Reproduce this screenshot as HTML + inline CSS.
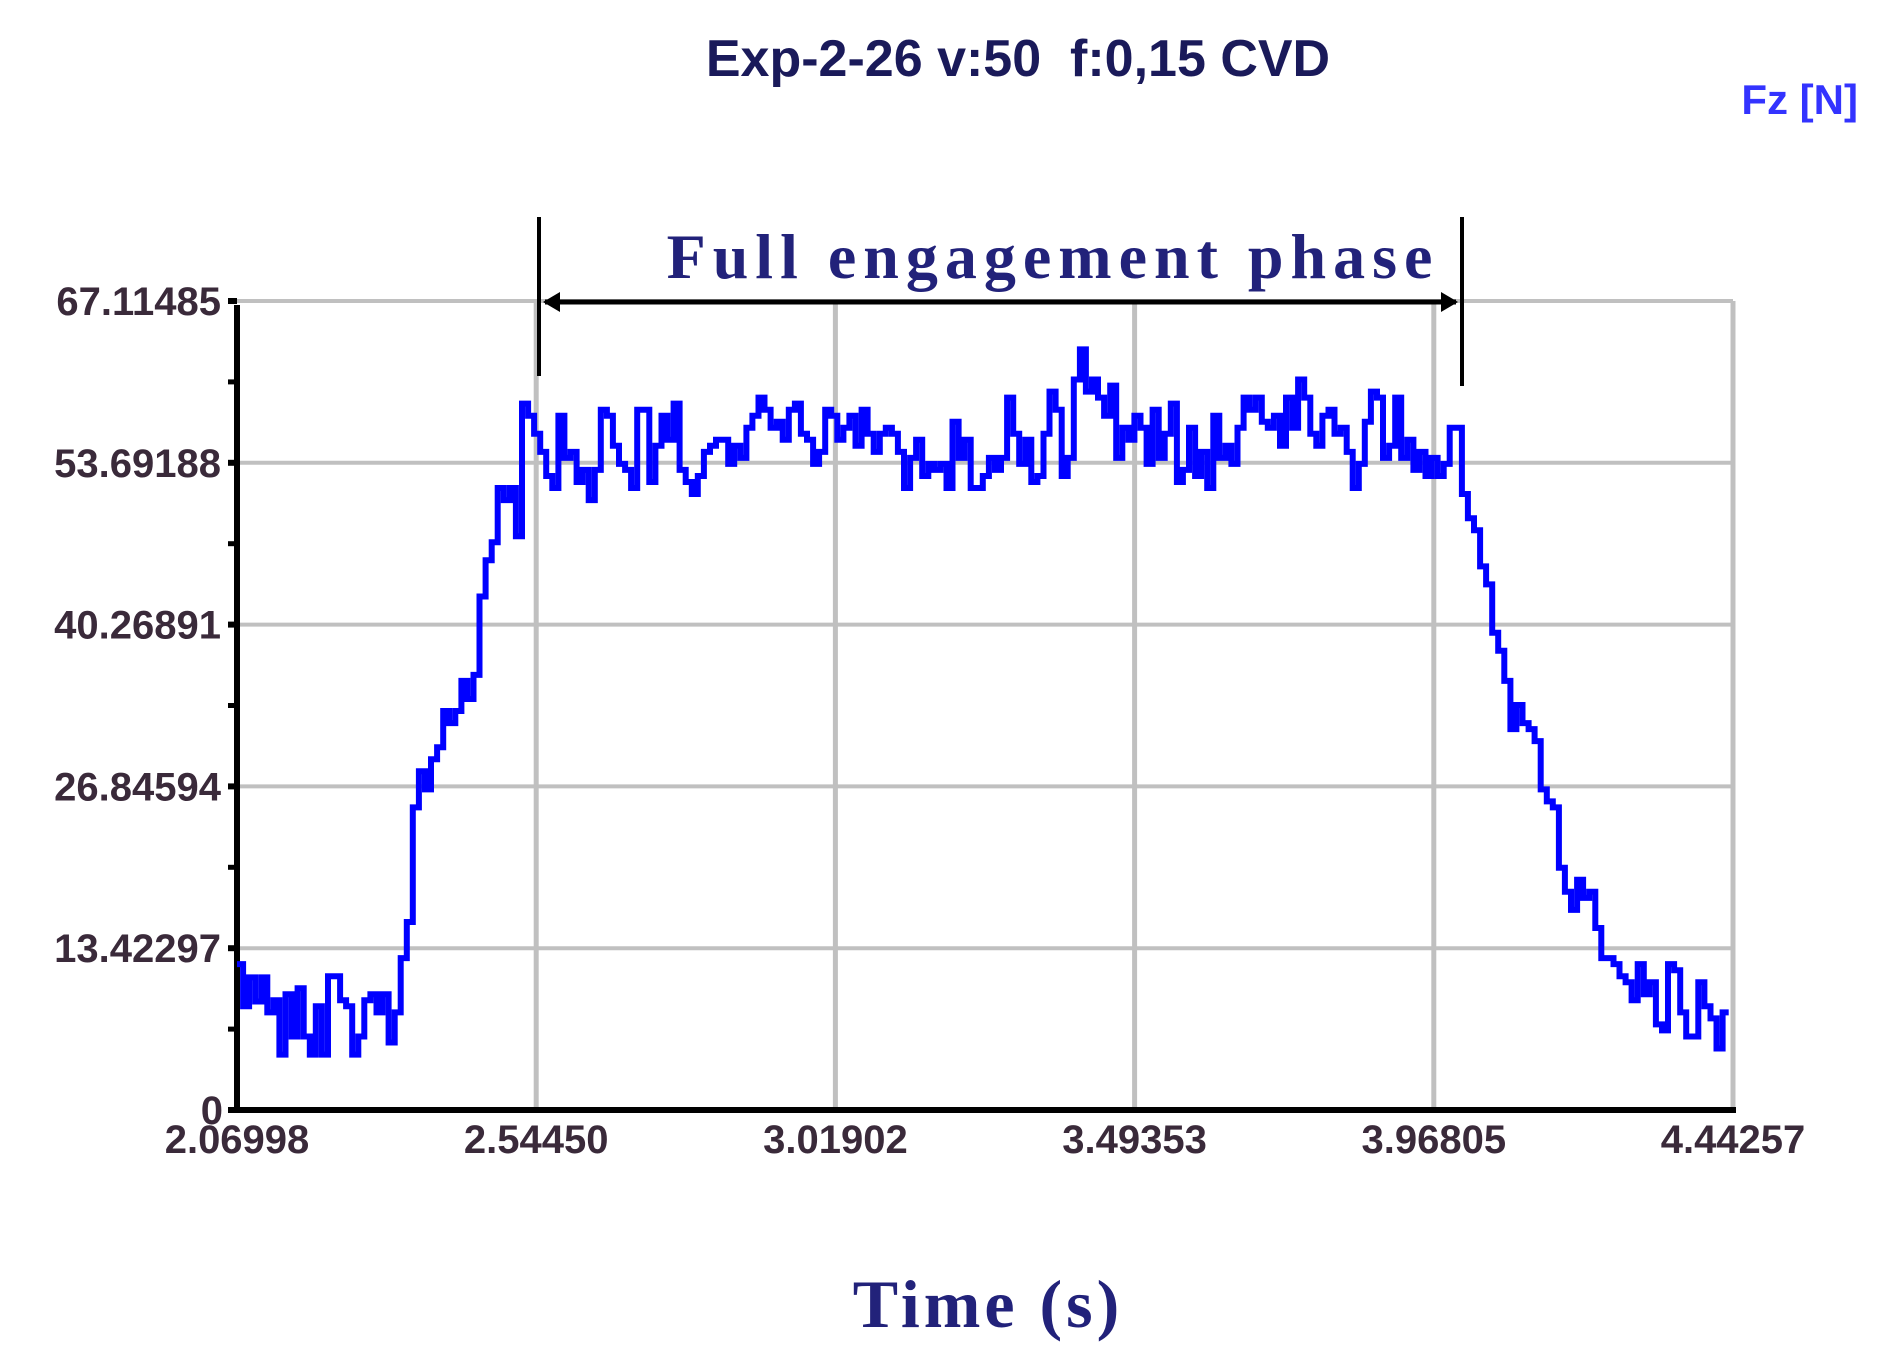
<!DOCTYPE html>
<html><head><meta charset="utf-8"><style>
html,body{margin:0;padding:0;background:#fff;}
svg{display:block;}
.tk{font-family:"Liberation Sans",sans-serif;font-weight:bold;font-size:40px;fill:#3a2a3a;}
</style></head><body>
<svg id="chart" width="1880" height="1372" viewBox="0 0 1880 1372" xmlns="http://www.w3.org/2000/svg">
<text x="1018" y="76" text-anchor="middle" font-family="Liberation Sans, sans-serif" font-weight="bold" font-size="52" fill="#1a1a5a">Exp-2-26 v:50&#160;&#160;f:0,15 CVD</text>
<text x="1858" y="114" text-anchor="end" font-family="Liberation Sans, sans-serif" font-weight="bold" font-size="42" fill="#3333ff">Fz [N]</text>
<g id="grid"></g>
<g id="axes"></g>
<g id="series"></g>
<g>
<line x1="539" y1="217" x2="539" y2="376" stroke="#000" stroke-width="4"/>
<line x1="1462" y1="217" x2="1462" y2="386" stroke="#000" stroke-width="4"/>
<line x1="545" y1="302" x2="1456" y2="302" stroke="#000" stroke-width="5"/>
<polygon points="543,302 560,292 560,312" fill="#000"/>
<polygon points="1458,302 1441,292 1441,312" fill="#000"/>
<text x="1053" y="278" text-anchor="middle" font-family="Liberation Serif, serif" font-weight="bold" font-size="64" fill="#22227a" letter-spacing="7">Full engagement phase</text>
</g>
<text x="988" y="1327" text-anchor="middle" font-family="Liberation Serif, serif" font-weight="bold" font-size="68" fill="#22227a" letter-spacing="4">Time (s)</text>
</svg>
<script>
const xTickLabels=["2.06998","2.54450","3.01902","3.49353","3.96805","4.44257"];
const yTickLabels=["0","13.42297","26.84594","40.26891","53.69188","67.11485"];
const xMin=2.06998, xMax=4.44257, yMin=0, yMax=67.11485;
const fzValues=[12.1,8.6,11,9,11,8.1,9.1,4.6,9.6,6.1,10.1,6.1,4.6,8.6,4.6,11.1,11.1,9.1,8.6,4.6,6.1,9.1,9.6,8.1,9.6,5.6,8.1,12.6,15.6,25.1,28.1,26.6,29.1,30.1,33.1,32.1,33.1,35.6,34.1,36.1,42.6,45.6,47.1,51.6,50.6,51.6,47.6,58.6,57.6,56.1,54.6,52.6,51.6,57.6,54.1,54.6,52.1,53.1,50.6,53.1,58.1,57.6,55.1,53.6,53.1,51.6,58.1,58.1,52.1,55.1,57.6,55.6,58.6,53.1,52.1,51.1,52.6,54.6,55.1,55.6,55.6,53.6,55.1,54.1,56.6,57.6,59.1,58.1,56.6,57.1,55.6,58.1,58.6,56.1,55.6,53.6,54.6,58.1,57.6,55.6,56.6,57.6,55.1,58.1,56.1,54.6,56.1,56.6,56.1,54.6,51.6,54.1,55.6,52.6,53.6,53.1,53.6,51.6,57.1,54.1,55.6,51.6,51.6,52.6,54.1,53.1,54.1,59.1,56.1,53.6,55.6,52.1,52.6,56.1,59.6,58.1,52.6,54.1,60.6,63.1,59.6,60.6,59.1,57.6,60.1,54.1,56.6,55.6,57.6,56.6,53.6,58.1,54.1,56.1,58.6,52.1,53.1,56.6,52.6,54.6,51.6,57.6,54.1,55.1,53.6,56.6,59.1,58.1,59.1,57.1,56.6,57.6,55.1,59.1,56.6,60.6,59.1,56.1,55.1,57.6,58.1,56.1,56.6,54.6,51.6,53.6,57.1,59.6,59.1,54.1,55.1,59.1,54.1,55.6,53.1,54.6,52.6,54.1,52.6,53.6,56.6,56.6,51.1,49.1,48.1,45.1,43.6,39.6,38.1,35.6,31.6,33.6,32.1,31.6,30.6,26.6,25.6,25.1,20.1,18.1,16.6,19.1,17.6,18.1,15.1,12.6,12.6,12.1,11.1,10.6,9.1,12.1,9.6,10.6,7.1,6.6,12.1,11.6,8.1,6.1,6.1,10.6,8.6,7.6,5.1,8.1,8.1];
const tStart=2.06998, tEnd=4.4357;
const L=237,R=1733,T=301,B=1110;
const NS="http://www.w3.org/2000/svg";
function sx(t){return L+(t-xMin)/(xMax-xMin)*(R-L);}
function sy(v){return B-(v-yMin)/(yMax-yMin)*(B-T);}
function mk(tag,attrs,parent){const e=document.createElementNS(NS,tag);for(const k in attrs)e.setAttribute(k,attrs[k]);parent.appendChild(e);return e;}
const grid=document.getElementById('grid'),axes=document.getElementById('axes'),series=document.getElementById('series');
const nx=xTickLabels.length, ny=yTickLabels.length;
for(let i=0;i<ny;i++){
  const v=yMin+i*(yMax-yMin)/(ny-1), y=sy(v);
  if(i>0){const g=mk('line',{x1:L,y1:y,x2:R,y2:y,stroke:'#c0c0c0','stroke-width':4},grid);
  
  }
  const tk=mk('line',{x1:L-9,y1:y,x2:L,y2:y,stroke:'#000','stroke-width':6},axes);
  
  
  if(i<ny-1){const ym=sy(v+(yMax-yMin)/(ny-1)/2);
    const mt=mk('line',{x1:L-9,y1:ym,x2:L,y2:ym,stroke:'#000','stroke-width':5},axes);
    
    }
  const lb=mk('text',{x:i==0?L-14:L-16,y:y+14,'text-anchor':'end',class:'tk'},axes);
  lb.textContent=yTickLabels[i];
  
  
}
for(let i=0;i<nx;i++){
  const t=xMin+i*(xMax-xMin)/(nx-1), x=sx(t);
  if(i>0){const g=mk('line',{x1:x,y1:T,x2:x,y2:B,stroke:'#c0c0c0','stroke-width':5},grid);
  
  }
  const lb=mk('text',{x:x,y:1153,'text-anchor':'middle',class:'tk'},axes);
  lb.textContent=xTickLabels[i];
  
  
}
const ya=mk('line',{x1:L,y1:T+4,x2:L,y2:B+3,stroke:'#000','stroke-width':6},axes);


const xa=mk('line',{x1:L-3,y1:B,x2:R+3,y2:B,stroke:'#000','stroke-width':6},axes);


let d='';const n=fzValues.length;
for(let i=0;i<n;i++){
  const t=tStart+i*(tEnd-tStart)/(n-1), x=sx(t), y=sy(fzValues[i]);
  if(i==0)d+='M'+x.toFixed(1)+' '+y.toFixed(1);
  else d+=' H'+x.toFixed(1)+' V'+y.toFixed(1);
}
const p=mk('path',{d:d,fill:'none',stroke:'#0000ff','stroke-width':6,'stroke-linejoin':'miter'},series);


</script>
</body></html>
